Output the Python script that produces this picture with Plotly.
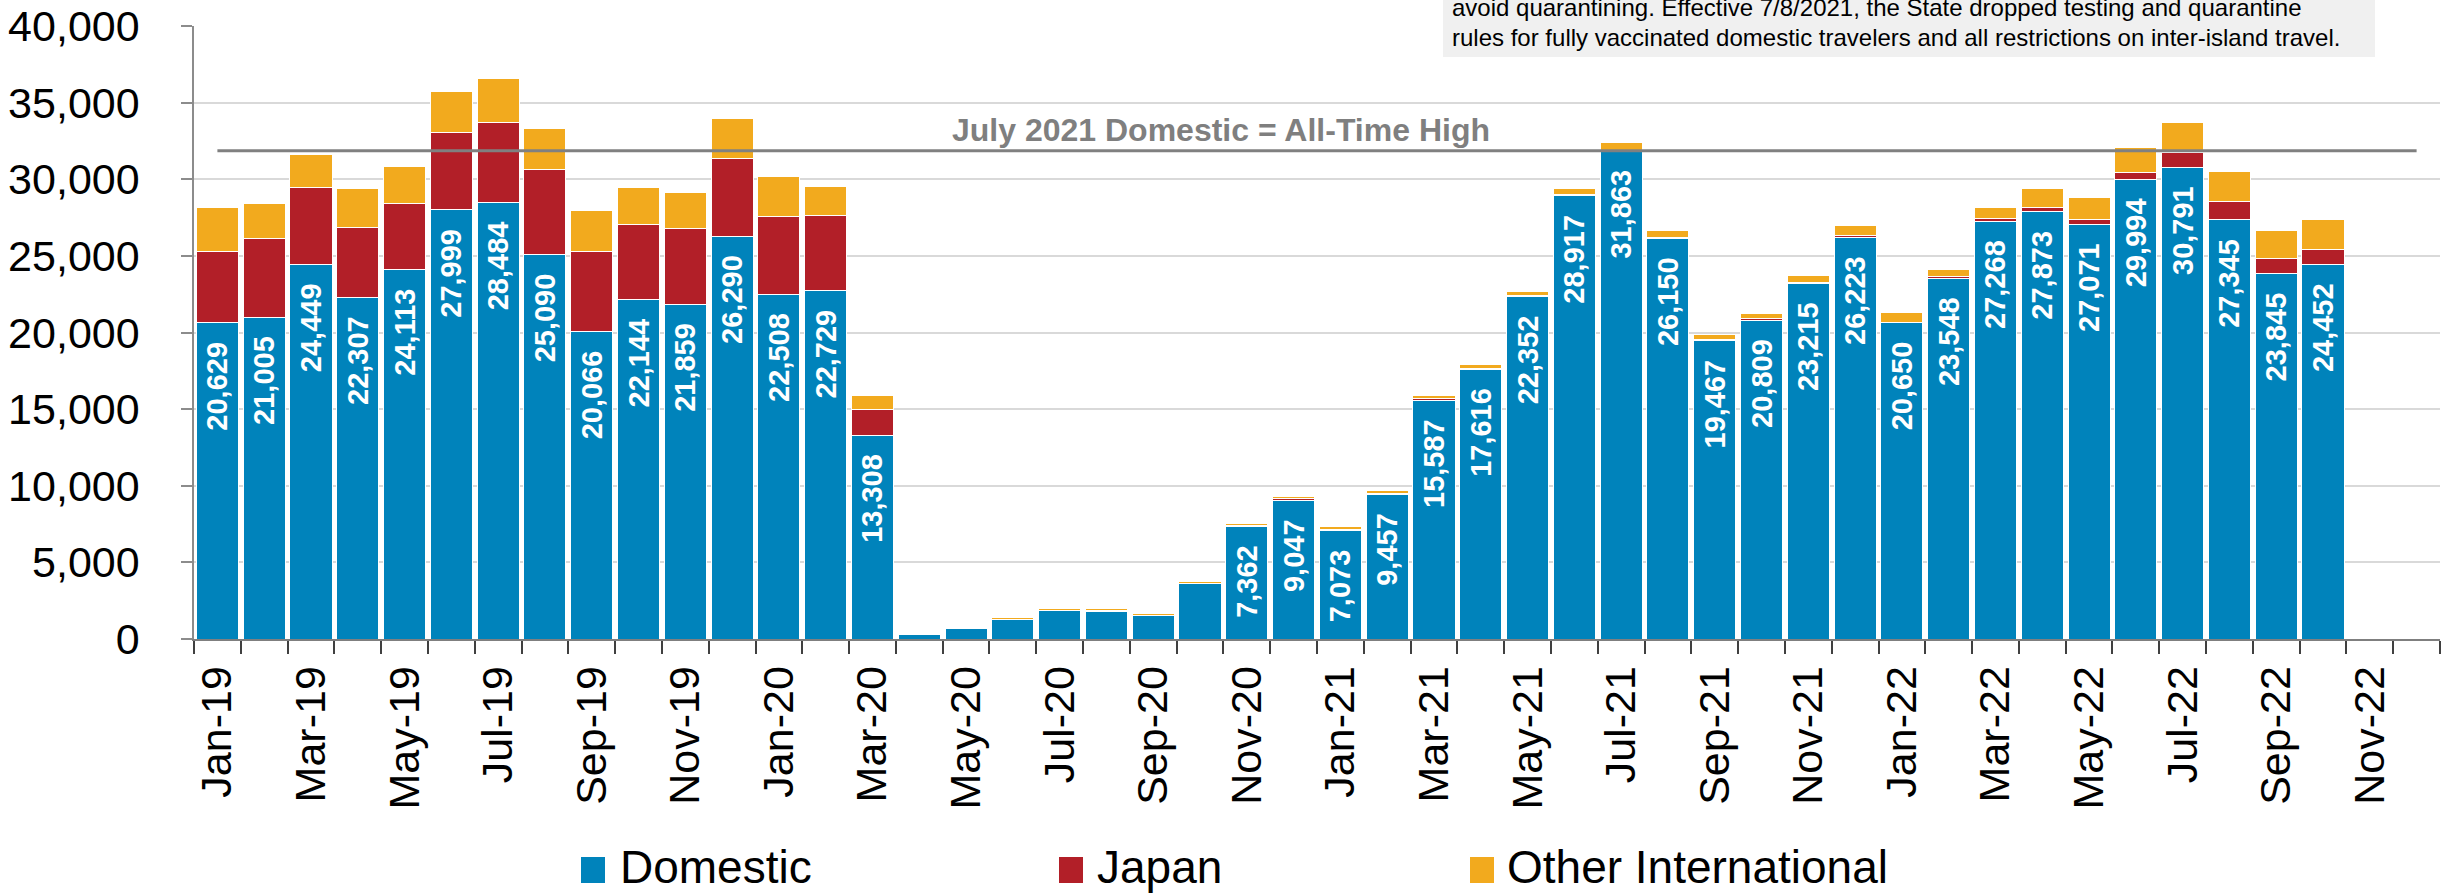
import plotly.graph_objects as go

# Month categories (two empty slots at the end of 2022)
MONTH_ABBR = ["Jan", "Feb", "Mar", "Apr", "May", "Jun",
              "Jul", "Aug", "Sep", "Oct", "Nov", "Dec"]
months = [f"{m}-{y}" for y in ("19", "20", "21", "22") for m in MONTH_ABBR]

# Average daily arrivals by market, Jan-19 .. Oct-22
domestic = [20629, 21005, 24449, 22307, 24113, 27999, 28484, 25090, 20066, 22144,
            21859, 26290, 22508, 22729, 13308, 280, 700, 1280, 1830, 1820,
            1550, 3590, 7362, 9047, 7073, 9457, 15587, 17616, 22352, 28917,
            31863, 26150, 19467, 20809, 23215, 26223, 20650, 23548, 27268, 27873,
            27071, 29994, 30791, 27345, 23845, 24452]
japan = [4670, 5110, 5020, 4550, 4310, 5060, 5200, 5540, 5240, 4880,
         4960, 5040, 5050, 4900, 1690, 10, 5, 10, 10, 10,
         10, 30, 40, 100, 100, 50, 80, 60, 50, 90,
         20, 80, 60, 80, 80, 130, 30, 80, 170, 270,
         300, 470, 950, 1190, 1015, 990]
other_intl = [2840, 2330, 2140, 2510, 2440, 2650, 2890, 2700, 2630, 2420,
              2300, 2630, 2630, 1880, 880, 80, 40, 140, 160, 165,
              120, 140, 120, 160, 150, 190, 220, 220, 270, 410,
              510, 420, 360, 370, 450, 630, 620, 490, 700, 1250,
              1420, 1600, 1950, 1950, 1790, 1930]

series_names = ["Domestic", "Japan", "Other International"]
series_colors = ["#0083BB", "#B21F28", "#F2AA1E"]

peak_month = "Jul-21"
peak_label = "July 2021 Domestic = All-Time High"
note_lines = [
    "avoid quarantining. Effective 7/8/2021, the State dropped testing and quarantine",
    "rules for fully vaccinated domestic travelers and all restrictions on inter-island travel.",
]

# ---- page geometry (pixels) ----
W, H = 2453, 893
ML, MR, MT, MB = 194, 13, 26, 254
PW, PH = W - ML - MR, H - MT - MB


def px_x(x):
    return (x - ML) / PW


def px_y(y):
    return (H - MB - y) / PH


FONT = "Liberation Sans, Arial, Helvetica, sans-serif"
NBSP = "\u00a0"

x_bars = months[:len(domestic)]
bar_labels = [f"{v:,}" + NBSP * 2 if v >= 5000 else "" for v in domestic]

fig = go.Figure()
for name, vals, color in zip(series_names, [domestic, japan, other_intl], series_colors):
    kw = {}
    if name == "Domestic":
        kw = dict(text=bar_labels, textposition="inside", insidetextanchor="end",
                  textangle=-90, constraintext="none",
                  textfont=dict(family=FONT, size=29, color="white", weight="bold"))
    fig.add_trace(go.Bar(
        x=x_bars, y=vals, name=name, marker=dict(color=color, line=dict(color="white", width=1)),
        showlegend=False, hoverinfo="skip", **kw))

peak = domestic[months.index(peak_month)]
fig.add_trace(go.Scatter(x=[months[0], months[-1]], y=[peak, peak], mode="lines",
                         line=dict(color="#808080", width=3), showlegend=False,
                         hoverinfo="skip"))

fig.update_layout(
    width=W, height=H, barmode="stack", bargap=0.1,
    margin=dict(l=ML, r=MR, t=MT, b=MB, autoexpand=False),
    paper_bgcolor="white", plot_bgcolor="white",
    font=dict(family=FONT, color="black"),
)

fig.update_xaxes(
    type="category", categoryorder="array", categoryarray=months,
    range=[-0.5, len(months) - 0.5],
    tickmode="array", tickvals=months,
    ticktext=[m if i % 2 == 0 else "" for i, m in enumerate(months)],
    tickangle=-90, tickson="boundaries", ticks="outside", ticklen=13,
    tickcolor="#404040", tickwidth=1.5,
    tickfont=dict(family=FONT, size=43, color="black"), ticklabelstandoff=8,
    showline=True, linecolor="#7F7F7F", linewidth=2, showgrid=False, zeroline=False,
)
fig.update_yaxes(
    range=[0, 40000], dtick=5000, tickformat=",",
    ticks="outside", ticklen=11, tickcolor="#8C8C8C", tickwidth=1.5,
    tickfont=dict(family=FONT, size=43, color="black"), ticklabelstandoff=33,
    showline=True, linecolor="#8C8C8C", linewidth=1.5,
    showgrid=True, gridcolor="#D9D9D9", gridwidth=2, zeroline=False,
)

# label for the peak line
fig.add_annotation(x=px_x(1221), xref="paper", y=peak, yref="y", yanchor="bottom",
                   yshift=1, text=f"<b>{peak_label}</b>", showarrow=False,
                   font=dict(family=FONT, size=32, color="#7F7F7F"))

# note box at the top right
fig.add_shape(type="rect", xref="paper", yref="paper",
              x0=px_x(1443), x1=px_x(2375), y0=px_y(57), y1=px_y(-40),
              fillcolor="#F0F0F0", line=dict(width=0), layer="above")
for text, yc in zip(note_lines, [8, 38]):
    fig.add_annotation(x=px_x(1450), xref="paper", xanchor="left",
                       y=px_y(yc), yref="paper", yanchor="middle",
                       text=text, showarrow=False, align="left",
                       font=dict(family=FONT, size=24, color="black"))

# legend row
legend_marks = [(581, 618), (1059, 1095), (1470, 1505)]
for (mx, tx), name, color in zip(legend_marks, series_names, series_colors):
    fig.add_shape(type="rect", xref="paper", yref="paper",
                  x0=px_x(mx), x1=px_x(mx + 24), y0=px_y(883), y1=px_y(857),
                  fillcolor=color, line=dict(width=0))
    fig.add_annotation(x=px_x(tx), xref="paper", xanchor="left",
                       y=px_y(867), yref="paper", yanchor="middle",
                       text=name, showarrow=False,
                       font=dict(family=FONT, size=46, color="black"))

fig.write_html("out.html")
